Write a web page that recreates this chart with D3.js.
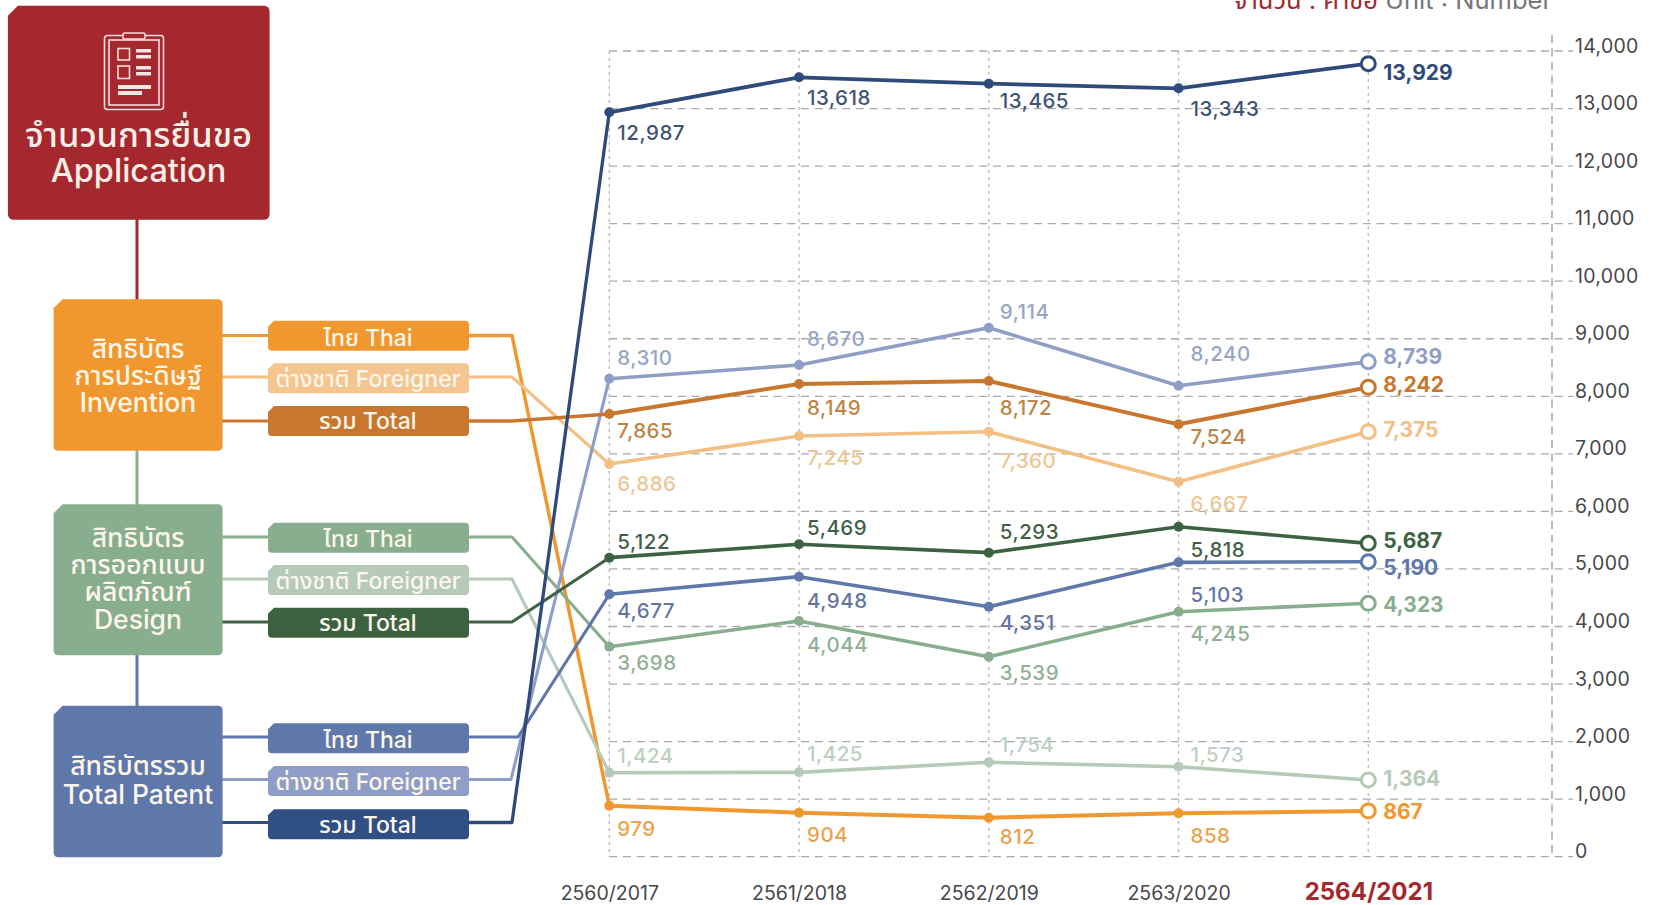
<!DOCTYPE html>
<html><head><meta charset="utf-8">
<script src="https://cdn.jsdelivr.net/npm/d3@7/dist/d3.min.js"></script>
<style>
html,body{margin:0;padding:0;background:#fff;overflow:hidden}
svg{display:block}
text{font-family:Inter,"Noto Sans Thai","Noto Sans",sans-serif}
</style></head><body>
<svg id="c" width="1656" height="905"></svg>
<script>
// ---------- data ----------
const years = ["2560/2017","2561/2018","2562/2019","2563/2020","2564/2021"];
const yTicks = [0,1000,2000,3000,4000,5000,6000,7000,8000,9000,10000,11000,12000,13000,14000];

// printed labels
const patentTotalLabels   = [12987,13618,13465,13343,13929];
const patentForeignLabels = [8310,8670,9114,8240,8739];
const inventionTotalLabels   = [7865,8149,8172,7524,8242];
const inventionForeignLabels = [6886,7245,7360,6667,7375];
const designTotalLabels   = [5122,5469,5293,5818,5687];
const patentThaiLabels    = [4677,4948,4351,5103,5190];
const designThaiLabels    = [3698,4044,3539,4245,4323];
const designForeignLabels = [1424,1425,1754,1573,1364];
const inventionThaiLabels = [979,904,812,858,867];

// heights of the plotted points, as read against the axis
const patentTotal   = [12935,13543,13432,13352,13780];
const patentForeign = [8306,8544,9192,8184,8601];
const inventionTotal   = [7692,8214,8266,7513,8156];
const inventionForeign = [6824,7310,7385,6516,7385];
const designTotal   = [5196,5428,5283,5734,5445];
const patentThai    = [4559,4866,4344,5115,5126];
const designThai    = [3649,4095,3475,4257,4403];
const designForeign = [1460,1466,1640,1564,1333];
const inventionThai = [886,765,678,754,794];

// ---------- layout and style ----------
const W=1656,H=905;
const svg=d3.select("#c");
const x=d3.scalePoint().domain(years).range([609.3,1368.3]);
const y=d3.scaleLinear().domain([0,14000]).range([856.7,51]);
const AXIS_X=1552, GRID_END=1573;
const COL_DX=[8,8,11,12,15];

const RED="#a4282d";
const series=[
 {v:inventionThai,l:inventionThaiLabels,c:"#f0982f",t:"#eaa24c",dy:[30,29,26,30,8],lw:4,bend:512,sy:335.5},
 {v:designForeign,l:designForeignLabels,c:"#b5cab8",t:"#bccfc0",dy:[-10,-11,-10,-5,6],lw:3.6,bend:512,sy:579},
 {v:inventionForeign,l:inventionForeignLabels,c:"#f3bf84",t:"#ecc795",dy:[27,29,36,29,5],lw:3.6,bend:512,sy:377},
 {v:designThai,l:designThaiLabels,c:"#88ae8e",t:"#8fb095",dy:[23,31,23,29,9],lw:3.6,bend:512,sy:537},
 {v:patentForeign,l:patentForeignLabels,c:"#8f9ec6",t:"#97a5c6",dy:[-14,-19,-9,-25,2],lw:3.6,bend:511,sy:779.5},
 {v:inventionTotal,l:inventionTotalLabels,c:"#c9762e",t:"#bd8442",dy:[24,31,34,20,5],lw:4,bend:512,sy:421},
 {v:patentThai,l:patentThaiLabels,c:"#5f78ab",t:"#64769f",dy:[24,31,23,40,13],lw:3.6,bend:518,sy:737},
 {v:designTotal,l:designTotalLabels,c:"#3d6242",t:"#3f5f46",dy:[-9,-9,-14,30,5],lw:3.6,bend:512,sy:622},
 {v:patentTotal,l:patentTotalLabels,c:"#2f4b7c",t:"#3f5475",dy:[28,28,24,28,16],lw:3.8,bend:512,sy:822.5}
];

function notch(px,py,w,h,cut,r){
  return `M${px+cut},${py}H${px+w-r}Q${px+w},${py} ${px+w},${py+r}V${py+h-r}Q${px+w},${py+h} ${px+w-r},${py+h}H${px+r}Q${px},${py+h} ${px},${py+h-r}V${py+cut}Z`;
}

// ---------- grid ----------
const grid=svg.append("g");
grid.selectAll("line.h").data(yTicks).join("line")
  .attr("x1",x(years[0])).attr("x2",GRID_END).attr("y1",d=>y(d)).attr("y2",d=>y(d))
  .attr("stroke","#aaa").attr("stroke-width",1.3).attr("stroke-dasharray","8 5.7");
grid.selectAll("line.v").data(years).join("line")
  .attr("x1",d=>x(d)).attr("x2",d=>x(d)).attr("y1",y(14000)).attr("y2",y(0))
  .attr("stroke","#b9b9bd").attr("stroke-width",1.3).attr("stroke-dasharray","3 4");
grid.append("line").attr("x1",AXIS_X).attr("x2",AXIS_X).attr("y1",35).attr("y2",y(0))
  .attr("stroke","#a5a5a5").attr("stroke-width",1.5).attr("stroke-dasharray","8 5.5");

// ---------- axes ----------
const yAxis=svg.append("g").attr("transform",`translate(${1575},1)`)
  .call(d3.axisRight(y).tickValues(yTicks).tickSize(0).tickPadding(0).tickFormat(d3.format(",")));
yAxis.select(".domain").remove();
yAxis.selectAll("text").attr("dy",0).attr("font-size",19.5).attr("letter-spacing",0.3).attr("fill","#47474a")
  .style("font-family","Inter,sans-serif");

const xAxis=svg.append("g").attr("transform","translate(0,900)")
  .call(d3.axisBottom(x).tickSize(0).tickPadding(0));
xAxis.select(".domain").remove();
xAxis.selectAll("text").attr("y",0).attr("dy",0).attr("text-anchor","middle")
  .attr("font-size",19.5).attr("fill","#47474a").style("font-family","Inter,sans-serif");
xAxis.selectAll("text").filter(d=>d===years[4]).attr("font-size",24).attr("font-weight",700).attr("fill",RED);

// ---------- lines from chips to first year ----------
const line=d3.line();
const CHIP_R=468;
svg.append("g").selectAll("path").data(series).join("path")
  .attr("fill","none").attr("stroke",d=>d.c).attr("stroke-width",d=>d.lw-0.5).attr("stroke-linejoin","round")
  .attr("d",d=>line([[CHIP_R,d.sy],[d.bend,d.sy],[x(years[0]),y(d.v[0])]]));

// ---------- series ----------
const g=svg.append("g").selectAll("g").data(series).join("g");
g.append("path").attr("fill","none").attr("stroke",d=>d.c).attr("stroke-width",d=>d.lw).attr("stroke-linejoin","round")
  .attr("d",d=>line(d.v.map((v,i)=>[x(years[i]),y(v)])));
g.selectAll("circle").data(d=>d.v.map((v,i)=>({v,i,c:d.c}))).join("circle")
  .attr("cx",d=>x(years[d.i])).attr("cy",d=>y(d.v))
  .attr("r",d=>d.i===4?7:5)
  .attr("fill",d=>d.i===4?"#fff":d.c)
  .attr("stroke",d=>d.i===4?d.c:"none").attr("stroke-width",3);
g.selectAll("text").data(d=>d.l.map((l,i)=>({l,i,t:d.t,c:d.c,v:d.v[i],dy:d.dy[i]}))).join("text")
  .attr("x",d=>x(years[d.i])+COL_DX[d.i])
  .attr("y",d=>y(d.v)+d.dy)
  .attr("font-size",d=>d.i===4?21:20.5)
  .attr("letter-spacing",d=>d.i===4?0:0.5)
  .attr("font-weight",d=>d.i===4?700:450)
  .attr("fill",d=>d.i===4?d.c:d.t)
  .text(d=>d3.format(",")(d.l));

// ---------- tree ----------
const tree=svg.append("g");
const stems=[{c:RED,a:219,b:300},{c:"#88ae8e",a:450,b:505},{c:"#5f78ab",a:655,b:706}];
tree.selectAll("line.s").data(stems).join("line")
  .attr("x1",137).attr("x2",137).attr("y1",d=>d.a).attr("y2",d=>d.b)
  .attr("stroke",d=>d.c).attr("stroke-width",3);

const thaiLabel="ไทย Thai", foreignLabel="ต่างชาติ Foreigner", totalLabel="รวม Total";
const chips=[
 {t:320.7,y:335.5,c:"#f0982f",s:thaiLabel,f:"#f0982f",by:346},
 {t:363.3,y:377,c:"#f5c58f",s:foreignLabel,f:"#f3bf84",by:387},
 {t:406,y:421,c:"#c9762e",s:totalLabel,f:"#c9762e",by:429},
 {t:522.7,y:537,c:"#88ae8e",s:thaiLabel,f:"#88ae8e",by:547},
 {t:565,y:579,c:"#b5cab8",s:foreignLabel,f:"#b5cab8",by:589},
 {t:607.7,y:622,c:"#3d6242",s:totalLabel,f:"#3d6242",by:631},
 {t:723.3,y:737,c:"#5f78ab",s:thaiLabel,f:"#5f78ab",by:748},
 {t:766,y:779.5,c:"#8f9ec6",s:foreignLabel,f:"#8f9ec6",by:790},
 {t:809.3,y:822.5,c:"#2f4f85",s:totalLabel,f:"#2f4f85",by:833}
];
tree.selectAll("line.c").data(chips).join("line")
  .attr("x1",222).attr("x2",270).attr("y1",d=>d.y).attr("y2",d=>d.y)
  .attr("stroke",d=>d.f).attr("stroke-width",3.2);
tree.selectAll("path.chip").data(chips).join("path")
  .attr("d",d=>notch(268,d.t,201,30,6,4)).attr("fill",d=>d.c);
tree.selectAll("text.chip").data(chips).join("text")
  .attr("x",368).attr("y",d=>d.by).attr("text-anchor","middle")
  .attr("font-size",23).attr("font-weight",500).attr("fill","#fdf6ea").text(d=>d.s);

const boxes=[
 {t:299.3,h:151.4,c:"#f0982f",lines:[["สิทธิบัตร",358],["การประดิษฐ์",385],["Invention",412]]},
 {t:504.3,h:151,c:"#88ae8e",lines:[["สิทธิบัตร",546.7],["การออกแบบ",573.5],["ผลิตภัณฑ์",601],["Design",629]]},
 {t:705.7,h:151.6,c:"#5f78ab",lines:[["สิทธิบัตรรวม",775],["Total Patent",804]]}
];
boxes.forEach(b=>{
  tree.append("path").attr("d",notch(53.6,b.t,169,b.h,9,5)).attr("fill",b.c);
  b.lines.forEach(([s,ty])=>tree.append("text").attr("x",138).attr("y",ty).attr("text-anchor","middle")
    .attr("font-size",26.5).attr("font-weight",500).attr("fill","#fdf6ea").text(s));
});

// ---------- application box ----------
tree.append("path").attr("d",notch(7.9,5.7,261.7,214,10,6)).attr("fill",RED);
tree.append("text").attr("x",138.5).attr("y",147).attr("text-anchor","middle").attr("font-size",34.5).attr("font-weight",500).attr("fill","#fbeee8").text("จำนวนการยื่นขอ");
tree.append("text").attr("x",138.5).attr("y",182).attr("text-anchor","middle").attr("font-size",32.5).attr("font-weight",500).attr("fill","#fbeee8").text("Application");
const ic=tree.append("g").attr("fill","none").attr("stroke","#f6dcdc").attr("stroke-width",1.6);
ic.append("rect").attr("x",104.5).attr("y",35.5).attr("width",59).attr("height",74).attr("rx",3);
ic.append("rect").attr("x",109).attr("y",40).attr("width",50).attr("height",65);
ic.append("rect").attr("x",123).attr("y",33).attr("width",22).attr("height",6).attr("rx",1.5).attr("fill",RED);
ic.append("rect").attr("x",118).attr("y",48.5).attr("width",11.5).attr("height",11.5);
ic.append("rect").attr("x",118).attr("y",66).attr("width",11.5).attr("height",12.5);
const bars=[[136,49,15,3.5],[136,55,15,3.5],[136,66,15,3.5],[136,72,15,3.5],[118,85,33,4],[118,91,24,4]];
tree.append("g").selectAll("rect").data(bars).join("rect")
  .attr("x",d=>d[0]).attr("y",d=>d[1]).attr("width",d=>d[2]).attr("height",d=>d[3]).attr("fill","#f8e6e6");

// ---------- unit ----------
const unit=svg.append("text").attr("x",1552).attr("y",9).attr("text-anchor","end").attr("font-size",25.5);
unit.append("tspan").attr("fill","#a4282d").text("จำนวน : คำขอ ");
unit.append("tspan").attr("fill","#77777a").text("Unit : Number");
</script>
</body></html>
